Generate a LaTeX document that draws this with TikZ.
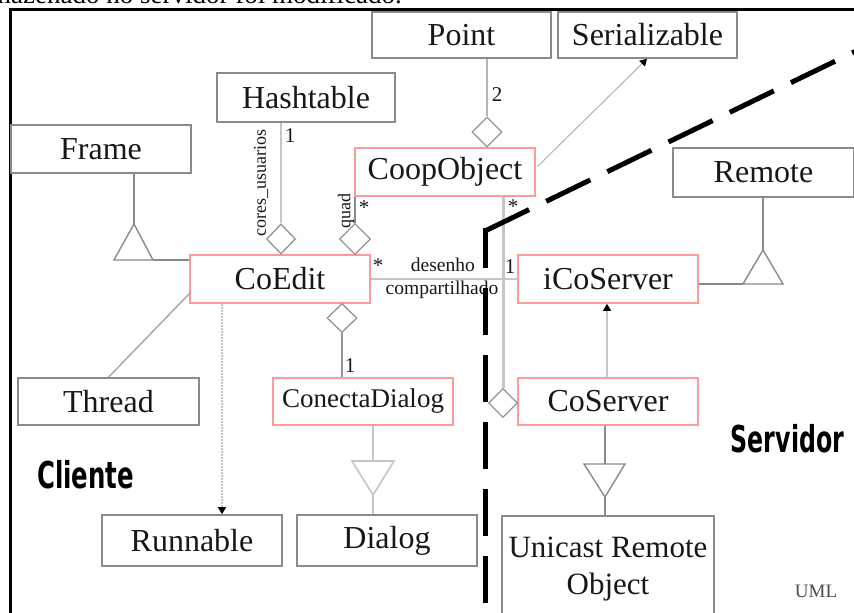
\documentclass[tikz,border=0pt]{standalone}
\usepackage{fontspec}
\setmainfont{Liberation Serif}
\newfontfamily\headfont{DejaVu Sans}
\usetikzlibrary{arrows.meta,shapes.geometric}
\definecolor{boxgray}{HTML}{8A8A8A}
\definecolor{redbox}{HTML}{FF9A9A}
\definecolor{lightline}{HTML}{C6C6C6}
\definecolor{midline}{HTML}{959595}
\definecolor{txt}{HTML}{181818}
\begin{document}
\begin{tikzpicture}[x=1pt,y=-1pt,
  cls/.style={draw=boxgray,line width=1.6pt,fill=white,inner sep=0pt,text=txt,font=\fontsize{32}{34}\selectfont},
  redcls/.style={cls,draw=redbox},
  agg/.style={diamond,draw=midline,fill=white,line width=1.3pt,inner sep=0pt,aspect=1},
  gen/.style={draw=boxgray,line width=1.4pt,fill=white},
  link/.style={draw=boxgray,line width=1.6pt},
  lightlink/.style={draw=lightline,line width=2.2pt},
  dotlink/.style={draw=lightline,line width=1.6pt,dash pattern=on 2pt off 1pt},
  tip/.style={-{Triangle[black,length=7pt,width=8pt]}},
  mult/.style={font=\fontsize{21}{22}\selectfont,text=txt,inner sep=0pt},
  small/.style={font=\fontsize{19.5}{20}\selectfont,text=txt,inner sep=0pt},
  sep/.style={draw=black,line width=5pt,line cap=butt},
  head/.style={font=\headfont\bfseries\fontsize{37}{37}\selectfont,inner sep=0pt}]
\useasboundingbox (0,0) rectangle (854,613);
\begin{scope}
\clip (0,0) rectangle (854,613);
% clipped caption line at the top
\node[anchor=base east,font=\fontsize{27}{28}\selectfont,inner sep=0pt] (cap) at (402,4) {armazenado no servidor foi modificado.};
\fill[white] (0,8) rectangle (854,613);
% outer frame
\draw[line width=3pt] (10,613) -- (10,9.5) -- (856,9.5);

% classes
\node[cls,minimum width=179pt,minimum height=46pt] (point) at (461.5,35) {Point};
\node[cls,minimum width=179pt,minimum height=46pt] (ser) at (647.5,35) {Serializable};
\node[cls,minimum width=178pt,minimum height=49pt] (hash) at (306,97.5) {Hashtable};
\node[cls,minimum width=180pt,minimum height=48pt] (frame) at (101,149) {Frame};
\node[redcls,minimum width=180pt,minimum height=48pt] (coop) at (445,172) {CoopObject};
\node[cls,minimum width=181pt,minimum height=49pt] (remote) at (763.5,172.5) {Remote};
\node[redcls,minimum width=180pt,minimum height=48pt] (coedit) at (280,279) {CoEdit};
\node[redcls,minimum width=180pt,minimum height=48pt] (icos) at (608,279) {iCoServer};
\node[cls,minimum width=181pt,minimum height=47pt] (thread) at (108.5,401.5) {Thread};
\node[redcls,minimum width=180pt,minimum height=47pt,font=\fontsize{27}{28}\selectfont] (conecta) at (363,401.5) {ConectaDialog};
\node[redcls,minimum width=180pt,minimum height=47pt] (coserver) at (608,401.5) {CoServer};
\node[cls,minimum width=180pt,minimum height=51pt] (runnable) at (192,540.5) {Runnable};
\node[cls,minimum width=180pt,minimum height=51pt] (dialog) at (387,540.5) {Dialog};
\node[cls,minimum width=212pt,minimum height=130pt] (uro) at (608,581) {};
\node[text=txt,font=\fontsize{31}{37}\selectfont,align=center,inner sep=0pt] (urotxt) at (608,569) {Unicast Remote\\Object};

% generalization Frame <- CoEdit
\coordinate (fA) at (134,224);
\coordinate (fL) at (114,260);
\coordinate (fR) at (153,260);
\draw[link] (frame.south -| fA) -- (fA);
\draw[link] (fR) -- (coedit.west |- fR);
\draw[gen] (fA) -- (fL) -- (fR) -- cycle;

% generalization Remote <- iCoServer
\coordinate (rA) at (763,250);
\coordinate (rL) at (743,284);
\coordinate (rR) at (783,284);
\draw[link] (remote.south -| rA) -- (rA);
\draw[link] (icos.east |- rL) -- (rL);
\draw[gen] (rA) -- (rL) -- (rR) -- cycle;

% generalization Dialog <- ConectaDialog
\coordinate (dT) at (373,461);
\coordinate (dL) at (352,461);
\coordinate (dR) at (394,461);
\coordinate (dA) at (373,495);
\draw[lightlink] (conecta.south -| dT) -- (dT);
\draw[lightlink] (dA) -- (dialog.north -| dA);
\draw[draw=lightline,line width=1.6pt,fill=white] (dL) -- (dR) -- (dA) -- cycle;

% generalization UnicastRemoteObject <- CoServer
\coordinate (uT) at (605,464);
\coordinate (uL) at (584,464);
\coordinate (uR) at (625,464);
\coordinate (uA) at (605,497);
\draw[link] (coserver.south -| uT) -- (uT);
\draw[link] (uA) -- (uro.north -| uA);
\draw[gen] (uL) -- (uR) -- (uA) -- cycle;

% Thread
\coordinate (ceT) at (190,293);
\draw[draw=midline!80,line width=1.5pt] (thread.north) -- (ceT);

% Runnable realization
\coordinate (rx) at (222,0);
\draw[dotlink,tip] (coedit.south -| rx) -- (runnable.north -| rx);

% aggregation Hashtable - CoEdit
\node[agg,minimum width=29pt,minimum height=30pt] (dh) at (281,239) {};
\draw[draw=lightline,line width=2pt] (hash.south -| dh) -- (dh.north);
\node[small,rotate=90,font=\fontsize{18}{19}\selectfont] (lcores) at (261,183) {cores\_usuarios};
\node[mult] (m1) at (290,136) {1};

% aggregation CoopObject - CoEdit (quad)
\node[agg,minimum width=31pt,minimum height=31pt] (dq) at (355,239) {};
\draw[link] (coop.south -| dq) -- (dq.north);
\node[small,rotate=90,font=\fontsize{18}{19}\selectfont] (lquad) at (346,211) {quad};
\node[mult] (m2) at (364,208) {*};

% aggregation ConectaDialog - CoEdit
\node[agg,minimum width=30pt,minimum height=29pt] (dc) at (342,318) {};
\draw[draw=midline,line width=1.8pt] (dc.south) -- (conecta.north -| dc);
\node[mult] (m3) at (350,366) {1};

% aggregation Point - CoopObject
\node[agg,minimum width=30pt,minimum height=30pt] (dp) at (487,132) {};
\draw[draw=midline!70,line width=1.8pt] (point.south -| dp) -- (dp.north);
\node[mult] (m4) at (497,95) {2};

% CoopObject -> Serializable
\coordinate (cs) at (537,167);
\coordinate (sx) at (647,0);
\draw[draw=lightline!90!black,line width=1pt,tip] (cs) -- (ser.south -| sx);

% CoEdit -- iCoServer association
\draw[lightlink] (coedit.east) -- (icos.west);
\node[mult] (m5) at (378,266) {*};
\node[small,anchor=east] (ldes) at (475,265) {desenho};
\node[small] (lcomp) at (442,290) {compartilhado};
\node[mult] (m6) at (510,267) {1};

% CoopObject -- CoServer aggregation
\node[agg,minimum width=29pt,minimum height=29pt] (ds) at (503,403) {};
\draw[draw=lightline,line width=3pt] (coop.south -| ds) -- (ds.north);
\node[mult] (m7) at (513,207) {*};

% CoServer -> iCoServer realization
\coordinate (ix) at (607,0);
\draw[draw=lightline,line width=1.3pt,tip] (coserver.north -| ix) -- (icos.south -| ix);

% client/server separator
\coordinate (sepC) at (485,228);
\coordinate (sepB) at (485,640);
\coordinate (sepK) at (485,231);
\coordinate (sepT) at (861.5,48.4);
\draw[sep,dash pattern=on 47pt off 20pt,dash phase=7pt] (sepC) -- (sepB);
\draw[sep,dash pattern=on 49pt off 19pt] (sepK) -- (sepT);

% labels
\node[head] (cli) at (85.5,475) {\scalebox{0.66}[1]{Cliente}};
\node[head] (srv) at (787.5,438.5) {\scalebox{0.64}[1]{Servidor}};
\node[font=\fontsize{19}{20}\selectfont,text=black!70,inner sep=0pt] (uml) at (816,591) {UML};
\end{scope}
\end{tikzpicture}
\end{document}
